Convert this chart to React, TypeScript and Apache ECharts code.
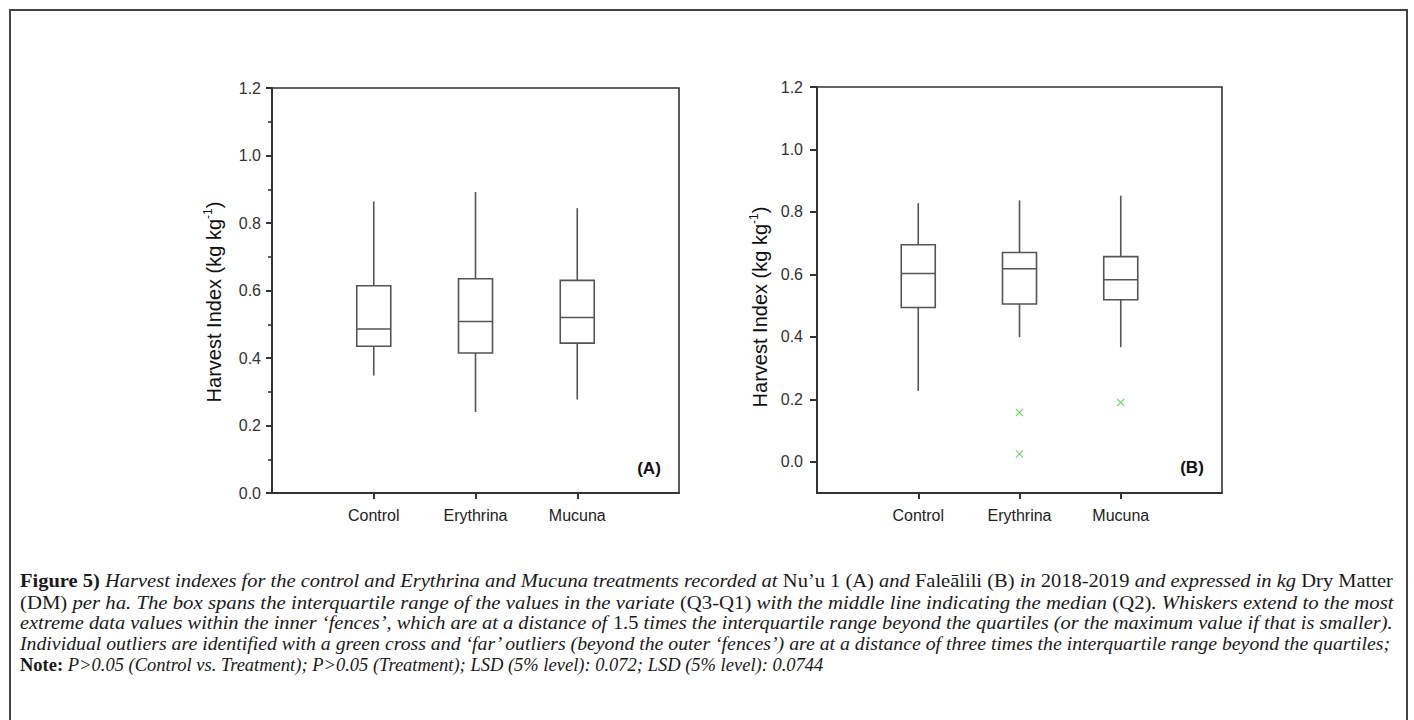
import React, { useEffect, useRef } from "react";
import * as echarts from "echarts";

// ---------------- data ----------------
const CATEGORIES = ["Control", "Erythrina", "Mucuna"];

// Panel (A) – Nu'u 1
const LOW_A = [0.348, 0.24, 0.277];
const Q1_A = [0.435, 0.415, 0.444];
const MED_A = [0.486, 0.508, 0.52];
const Q3_A = [0.614, 0.635, 0.63];
const HIGH_A = [0.864, 0.892, 0.844];

// Panel (B) – Faleālili
const LOW_B = [0.227, 0.399, 0.367];
const Q1_B = [0.494, 0.505, 0.519];
const MED_B = [0.603, 0.618, 0.583];
const Q3_B = [0.695, 0.67, 0.657];
const HIGH_B = [0.828, 0.837, 0.852];
const OUTLIER_CAT_B = ["Erythrina", "Erythrina", "Mucuna"];
const OUTLIER_VAL_B = [0.158, 0.025, 0.19];

const Y_TICKS = [0, 0.2, 0.4, 0.6, 0.8, 1.0, 1.2];
const Y_TITLE = ["Harvest Index (kg kg", "-1", ")"];
const PANEL_LABELS = ["(A)", "(B)"];

const CAPTION: [string, string][][] = [
  [
    ["b", "Figure 5)"],
    ["i", " Harvest indexes for the control and Erythrina and Mucuna treatments recorded at "],
    ["r", "Nu’u 1 (A)"],
    ["i", " and "],
    ["r", "Faleālili (B)"],
    ["i", " in "],
    ["r", "2018-2019"],
    ["i", " and expressed in kg "],
    ["r", "Dry Matter"],
  ],
  [
    ["r", "(DM)"],
    ["i", " per ha. The box spans the interquartile range of the values in the variate "],
    ["r", "(Q3-Q1)"],
    ["i", " with the middle line indicating the median "],
    ["r", "(Q2)"],
    ["i", ". Whiskers extend to the most"],
  ],
  [
    ["i", "extreme data values within the inner ‘fences’, which are at a distance of "],
    ["r", "1.5"],
    ["i", " times the interquartile range beyond the quartiles (or the maximum value if that is smaller)."],
  ],
  [
    ["i", "Individual outliers are identified with a green cross and ‘far’ outliers (beyond the outer ‘fences’) are at a distance of three times the interquartile range beyond the quartiles;"],
  ],
  [
    ["b", "Note:"],
    ["i", " P>0.05 (Control vs. Treatment); P>0.05 (Treatment); LSD (5% level): 0.072; LSD (5% level): 0.0744"],
  ],
];

// ---------------- helpers ----------------
const SANS = '"Liberation Sans", Arial, sans-serif';
const SERIF = '"Liberation Serif", "Times New Roman", serif';
const AXIS_COLOR = "#333";
const BOX_COLOR = "#555";
const CROSS_COLOR = "#74d874";

function boxData(low: number[], q1: number[], med: number[], q3: number[], high: number[]) {
  return CATEGORIES.map((c, i) => [i + 1, low[i], q1[i], med[i], q3[i], high[i]]);
}

function renderBox(params: any, api: any) {
  const x = api.value(0);
  const pLow = api.coord([x, api.value(1)]);
  const pQ1 = api.coord([x, api.value(2)]);
  const pMed = api.coord([x, api.value(3)]);
  const pQ3 = api.coord([x, api.value(4)]);
  const pHigh = api.coord([x, api.value(5)]);
  const half = 17;
  const cx = pLow[0];
  const st = { stroke: BOX_COLOR, lineWidth: 1.6, fill: "none" };
  return {
    type: "group",
    children: [
      { type: "line", shape: { x1: cx, y1: pHigh[1], x2: cx, y2: pQ3[1] }, style: st },
      { type: "line", shape: { x1: cx, y1: pQ1[1], x2: cx, y2: pLow[1] }, style: st },
      {
        type: "rect",
        shape: { x: cx - half, y: pQ3[1], width: half * 2, height: pQ1[1] - pQ3[1] },
        style: { stroke: BOX_COLOR, lineWidth: 1.6, fill: "#fff" },
      },
      { type: "line", shape: { x1: cx - half, y1: pMed[1], x2: cx + half, y2: pMed[1] }, style: st },
    ],
  };
}

function renderCross(params: any, api: any) {
  const p = api.coord([api.value(0), api.value(1)]);
  const h = 3.6;
  const st = { stroke: CROSS_COLOR, lineWidth: 1.2 };
  return {
    type: "group",
    children: [
      { type: "line", shape: { x1: p[0] - h, y1: p[1] - h, x2: p[0] + h, y2: p[1] + h }, style: st },
      { type: "line", shape: { x1: p[0] - h, y1: p[1] + h, x2: p[0] + h, y2: p[1] - h }, style: st },
    ],
  };
}

function xAxisFor(gridIndex: number) {
  return {
    type: "category",
    gridIndex,
    data: [" ", ...CATEGORIES, "  "],
    boundaryGap: false,
    axisLine: { show: true, onZero: false, lineStyle: { color: AXIS_COLOR, width: 2 } },
    axisTick: {
      show: true,
      inside: false,
      length: 6,
      interval: (i: number) => i >= 1 && i <= 3,
      lineStyle: { color: AXIS_COLOR, width: 2 },
    },
    axisLabel: {
      interval: 0,
      fontFamily: SANS,
      fontSize: 16,
      color: "#222",
      margin: 14,
    },
    splitLine: { show: false },
  };
}

function styleFont(s: string, size: number) {
  if (s === "b") return `normal bold ${size}px ${SERIF}`;
  if (s === "i") return `italic normal ${size}px ${SERIF}`;
  return `normal normal ${size}px ${SERIF}`;
}

function buildCaption(): any[] {
  const ctx = document.createElement("canvas").getContext("2d")!;
  const measure = (line: [string, string][], size: number) => {
    let w = 0;
    for (const [s, t] of line) {
      ctx.font = styleFont(s, size);
      w += ctx.measureText(t).width;
    }
    return w;
  };
  const left = 20;
  const target = 1393 - left;
  const base = 17;
  let minRatio = Infinity;
  for (let i = 0; i < CAPTION.length - 1; i++) {
    minRatio = Math.min(minRatio, target / measure(CAPTION[i], base));
  }
  const size = Math.min(18.5, base * minRatio);
  const ys = [581, 602, 623, 644, 665];
  const rich = {
    b: { fontFamily: SERIF, fontSize: size, fontWeight: "bold", fontStyle: "normal", fill: "#1a1a1a" },
    i: { fontFamily: SERIF, fontSize: size, fontWeight: "normal", fontStyle: "italic", fill: "#1a1a1a" },
    r: { fontFamily: SERIF, fontSize: size, fontWeight: "normal", fontStyle: "normal", fill: "#1a1a1a" },
  };
  return CAPTION.map((line, i) => {
    const w = measure(line, size);
    const last = i === CAPTION.length - 1;
    const sx = last ? 1 : target / w;
    return {
      type: "text",
      x: left,
      y: ys[i],
      scaleX: sx,
      style: {
        text: line.map(([s, t]) => `{${s}|${t}}`).join(""),
        rich,
        fontFamily: SERIF,
        fontSize: size,
        align: "left",
        verticalAlign: "middle",
      },
    };
  });
}

function yTitle(x: number, y: number) {
  return {
    type: "text",
    x,
    y,
    rotation: Math.PI / 2,
    style: {
      text: `{m|${Y_TITLE[0]}}{s|${Y_TITLE[1]}}{m|${Y_TITLE[2]}}`,
      align: "center",
      verticalAlign: "middle",
      rich: {
        m: { fontFamily: SANS, fontSize: 20, fill: "#111", lineHeight: 24 },
        s: { fontFamily: SANS, fontSize: 12, fill: "#111", lineHeight: 12, verticalAlign: "top" },
      },
    },
  };
}

export default function App() {
  const ref = useRef<HTMLDivElement>(null);

  useEffect(() => {
    if (!ref.current) return;
    const chart = echarts.init(ref.current, undefined, { renderer: "svg" });

    const outliers = OUTLIER_CAT_B.map((c, i) => [CATEGORIES.indexOf(c) + 1, OUTLIER_VAL_B[i]]);

    const option: any = {
      animation: false,
      backgroundColor: "#fff",
      grid: [
        { left: 272, top: 88, width: 407, height: 405, show: true, borderColor: AXIS_COLOR, borderWidth: 1.6, backgroundColor: "transparent" },
        { left: 817, top: 87, width: 405, height: 406, show: true, borderColor: AXIS_COLOR, borderWidth: 1.6, backgroundColor: "transparent" },
      ],
      xAxis: [xAxisFor(0), xAxisFor(1)],
      yAxis: [
        {
          type: "value",
          gridIndex: 0,
          min: 0,
          max: 1.2,
          interval: 0.2,
          axisLine: { show: true, lineStyle: { color: AXIS_COLOR, width: 2 } },
          axisTick: { show: true, inside: false, length: 6, lineStyle: { color: AXIS_COLOR, width: 2 } },
          minorTick: { show: true, splitNumber: 2, length: 4, lineStyle: { color: AXIS_COLOR, width: 1.6 } },
          splitLine: { show: false },
          axisLabel: {
            formatter: (v: number) => v.toFixed(1),
            fontFamily: SANS,
            fontSize: 16,
            color: "#333",
            margin: 11,
          },
        },
        {
          type: "value",
          gridIndex: 1,
          min: -0.1,
          max: 1.2,
          axisLine: { show: true, onZero: false, lineStyle: { color: AXIS_COLOR, width: 2 } },
          axisTick: { show: true, inside: false, length: 7, customValues: Y_TICKS, lineStyle: { color: AXIS_COLOR, width: 2 } },
          splitLine: { show: false },
          axisLabel: {
            customValues: Y_TICKS,
            formatter: (v: number) => v.toFixed(1),
            fontFamily: SANS,
            fontSize: 16,
            color: "#333",
            margin: 14,
          },
        },
      ],
      series: [
        {
          type: "custom",
          name: "Panel A",
          xAxisIndex: 0,
          yAxisIndex: 0,
          renderItem: renderBox,
          encode: { x: 0, y: [1, 2, 3, 4, 5] },
          data: boxData(LOW_A, Q1_A, MED_A, Q3_A, HIGH_A),
          z: 3,
        },
        {
          type: "custom",
          name: "Panel B",
          xAxisIndex: 1,
          yAxisIndex: 1,
          renderItem: renderBox,
          encode: { x: 0, y: [1, 2, 3, 4, 5] },
          data: boxData(LOW_B, Q1_B, MED_B, Q3_B, HIGH_B),
          z: 3,
        },
        {
          type: "custom",
          name: "Outliers B",
          xAxisIndex: 1,
          yAxisIndex: 1,
          renderItem: renderCross,
          encode: { x: 0, y: 1 },
          data: outliers,
          z: 4,
        },
      ],
      graphic: [
        {
          type: "rect",
          shape: { x: 10, y: 10, width: 1397, height: 800 },
          style: { fill: "none", stroke: "#444", lineWidth: 2 },
          silent: true,
        },
        yTitle(214, 302),
        yTitle(760, 307),
        {
          type: "text",
          x: 649,
          y: 468,
          style: { text: PANEL_LABELS[0], fontFamily: SANS, fontSize: 17, fontWeight: "bold", fill: "#111", align: "center", verticalAlign: "middle" },
        },
        {
          type: "text",
          x: 1192,
          y: 467,
          style: { text: PANEL_LABELS[1], fontFamily: SANS, fontSize: 17, fontWeight: "bold", fill: "#111", align: "center", verticalAlign: "middle" },
        },
        ...buildCaption(),
      ],
    };

    chart.setOption(option);
    return () => chart.dispose();
  }, []);

  return (
    <div
      ref={ref}
      style={{ position: "fixed", left: 0, top: 0, width: 1414, height: 720, background: "#fff" }}
    />
  );
}
